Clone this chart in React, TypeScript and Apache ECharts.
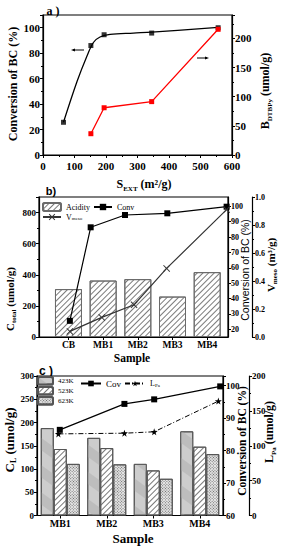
import { useEffect, useRef } from 'react';
import * as echarts from 'echarts';

const SERIF = '"Liberation Serif", "Times New Roman", serif';
const SANS = '"Liberation Sans", Arial, sans-serif';

// ---------- panel a ----------
const sExt = [65, 152, 194, 345, 556];
const convA = [25.7, 86, 94.5, 95.8, 100];
const fitSExt = [65, 108, 139, 160, 181, 213, 287, 345, 556];
const fitConv = [25.7, 57.7, 77.4, 88.4, 92.7, 94.7, 95.8, 96.6, 100.2];
const sExtB = [152, 194, 345, 556];
const bDTBPy = [36.5, 81, 91.5, 215.5];

// ---------- panel b ----------
const samplesB = ['CB', 'MB1', 'MB2', 'MB3', 'MB4'];
const barPosB = [1, 2, 3, 4, 5];
const acidity = [308, 363, 372, 260, 417];
const convBX = [1.04, 1.64, 2.63, 3.85, 5.56];
const convB = [25.5, 86.3, 94.3, 95.4, 99.7];
const vmesoX = [1.04, 1.96, 2.89, 3.83, 5.56];
const vmeso = [0.04, 0.14, 0.23, 0.49, 0.91];
const convBTicks = [20, 30, 40, 50, 60, 70, 80, 90, 100];

// ---------- panel c ----------
const samplesC = ['MB1', 'MB2', 'MB3', 'MB4'];
const cl423 = [188, 167, 111, 181];
const cl523 = [143, 145, 97, 148];
const cl623 = [111, 110, 79, 132];
const covX = [0.99, 2.38, 3.02, 4.44];
const covC = [86.4, 94.4, 95.8, 99.8];
const lpaX = [0.96, 2.38, 3.02, 4.4];
const lpa = [117, 118, 120, 164];

const pairs = (xs: number[], ys: number[]) => xs.map((x, i) => [x, ys[i]]);

const axLine = { show: true, onZero: false, lineStyle: { color: '#000', width: 1.2 } };
const tick = { show: true, length: 3, lineStyle: { color: '#000', width: 1 } };
const minor = { show: true, splitNumber: 2, length: 2, lineStyle: { color: '#000', width: 1 } };
const lbl = (fs: number, extra: any = {}) => ({
  color: '#000', fontFamily: SERIF, fontWeight: 'bold', fontSize: fs, margin: 3, ...extra,
});

const rich = (fs: number, family = SERIF, weight = 'bold') => ({
  m: { fontSize: fs, fontFamily: family, fontWeight: weight, lineHeight: fs + 4, fill: '#000' },
  s: { fontSize: Math.round(fs * 0.6), fontFamily: family, fontWeight: weight, lineHeight: Math.round(fs * 0.6), verticalAlign: 'bottom', fill: '#000' },
});

const title = (x: number, y: number, text: string, fs: number, rot = 0, family = SERIF, weight = 'bold') => ({
  type: 'text',
  x, y,
  rotation: rot,
  style: {
    text,
    rich: rich(fs, family, weight),
    fontSize: fs, fontFamily: family, fontWeight: weight,
    fill: '#000',
    align: 'center', verticalAlign: 'middle',
    textAlign: 'center', textVerticalAlign: 'middle',
  },
});

const R = Math.PI / 2;
const STAR = 'path://M5,0 L6.2,3.6 L10,3.6 L7,5.9 L8.1,9.5 L5,7.3 L1.9,9.5 L3,5.9 L0,3.6 L3.8,3.6 Z';
const XMARK = 'path://M0,1 L1,0 L5,4 L9,0 L10,1 L6,5 L10,9 L9,10 L5,6 L1,10 L0,9 L4,5 Z';
const subRich = { v: { fontSize: 8, fontFamily: SERIF, fill: '#000' }, s: { fontSize: 5, fontFamily: SERIF, verticalAlign: 'bottom', lineHeight: 5, fill: '#000' } };

export default function App() {
  const ref = useRef<HTMLDivElement>(null);
  useEffect(() => {
    if (!ref.current) return;
    const chart = echarts.init(ref.current, undefined, { renderer: 'svg' });
    const gridBase = { show: true, borderColor: '#000', borderWidth: 1.2, backgroundColor: 'transparent', containLabel: false };
    const option: any = {
      animation: false,
      backgroundColor: '#fff',
      grid: [
        { ...gridBase, left: 43, top: 15, width: 189, height: 140 },
        { ...gridBase, left: 39, top: 197, width: 189, height: 140 },
        { ...gridBase, left: 37, top: 376, width: 186, height: 139.5 },
      ],
      xAxis: [
        {
          gridIndex: 0, type: 'value', min: 0, max: 600, interval: 100,
          axisLine: axLine, axisTick: tick, minorTick: minor, splitLine: { show: false },
          axisLabel: lbl(11, { margin: 5 }),
        },
        {
          gridIndex: 1, type: 'value', min: 0.15, max: 5.6,
          axisLine: axLine,
          axisTick: { ...tick, customValues: barPosB },
          splitLine: { show: false },
          axisLabel: { ...lbl(9.5), customValues: barPosB, formatter: (v: number) => samplesB[Math.round(v) - 1] ?? '' },
        },
        {
          gridIndex: 2, type: 'category', data: samplesC, boundaryGap: true,
          axisLine: axLine, axisTick: { ...tick, alignWithLabel: true },
          axisLabel: lbl(10),
        },
        { gridIndex: 2, type: 'value', min: 0.5, max: 4.5, show: false },
      ],
      yAxis: [
        {
          gridIndex: 0, type: 'value', min: 0, max: 110, interval: 20, position: 'left',
          axisLine: axLine, axisTick: tick, minorTick: minor, splitLine: { show: false },
          axisLabel: { ...lbl(11), showMaxLabel: false },
        },
        {
          gridIndex: 0, type: 'value', min: 0, max: 240, interval: 50, position: 'right',
          axisLine: axLine, axisTick: tick, minorTick: minor, splitLine: { show: false },
          axisLabel: { ...lbl(11), showMaxLabel: false },
        },
        {
          gridIndex: 1, type: 'value', min: 0, max: 900, interval: 200, position: 'left',
          axisLine: axLine, axisTick: tick, minorTick: minor, splitLine: { show: false },
          axisLabel: { ...lbl(9), showMaxLabel: false },
        },
        {
          gridIndex: 1, type: 'value', min: 15, max: 106, position: 'right', offset: 0,
          axisLine: axLine, axisTick: { ...tick, customValues: convBTicks }, splitLine: { show: false },
          axisLabel: { ...lbl(8), customValues: convBTicks },
        },
        {
          gridIndex: 1, type: 'value', min: 0, max: 1, interval: 0.2, position: 'right', offset: 24,
          axisLine: axLine, axisTick: tick, minorTick: minor, splitLine: { show: false },
          axisLabel: { ...lbl(8), formatter: (v: number) => v.toFixed(1) },
        },
        {
          gridIndex: 2, type: 'value', min: 0, max: 300, interval: 50, position: 'left',
          axisLine: axLine, axisTick: tick, minorTick: minor, splitLine: { show: false },
          axisLabel: lbl(9),
        },
        {
          gridIndex: 2, type: 'value', min: 60, max: 103, interval: 10, position: 'right', offset: 0,
          axisLine: axLine, axisTick: tick, minorTick: minor, splitLine: { show: false },
          axisLabel: { ...lbl(9), showMaxLabel: false },
        },
        {
          gridIndex: 2, type: 'value', min: 0, max: 200, interval: 50, position: 'right', offset: 26,
          axisLine: axLine, axisTick: tick, minorTick: minor, splitLine: { show: false },
          axisLabel: lbl(9),
        },
      ],
      legend: [
        {
          data: ['Acidity', 'Conv'], left: 42, top: 202, itemWidth: 18, itemHeight: 8, itemGap: 3,
          textStyle: { fontFamily: SERIF, fontSize: 8, color: '#000' }, padding: 0,
        },
        {
          data: ['Vmeso'], left: 42, top: 213, itemWidth: 18, itemHeight: 8,
          textStyle: { fontFamily: SERIF, fontSize: 8, color: '#000', rich: subRich },
          formatter: () => '{v|V}{s|meso}', padding: 0,
        },
        {
          data: ['423K', '523K', '623K'], orient: 'vertical', left: 37, top: 376, itemWidth: 15, itemHeight: 7.5, itemGap: 0.5,
          textStyle: { fontFamily: SERIF, fontSize: 7, color: '#000' }, padding: 0,
        },
        {
          data: ['Cov', 'LPa'], left: 80, top: 379, itemWidth: 20, itemHeight: 7, itemGap: 3,
          textStyle: { fontFamily: SERIF, fontSize: 9, color: '#000', rich: subRich },
          formatter: (n: string) => (n === 'LPa' ? '{v|L}{s|Pa}' : n), padding: 0,
        },
      ],
      series: [
        // panel a
        {
          type: 'line', name: 'fit', xAxisIndex: 0, yAxisIndex: 0, data: pairs(fitSExt, fitConv),
          smooth: 0.35, showSymbol: false, lineStyle: { color: '#000', width: 1.3 },
        },
        {
          type: 'scatter', name: 'convA', xAxisIndex: 0, yAxisIndex: 0, data: pairs(sExt, convA),
          symbol: 'rect', symbolSize: 5, itemStyle: { color: '#000' },
        },
        {
          type: 'line', name: 'BDTBPy', xAxisIndex: 0, yAxisIndex: 1, data: pairs(sExtB, bDTBPy),
          symbol: 'rect', symbolSize: 5, lineStyle: { color: '#ff0000', width: 1.3 }, itemStyle: { color: '#ff0000' },
        },
        // panel b
        {
          type: 'bar', name: 'Acidity', xAxisIndex: 1, yAxisIndex: 2, data: pairs(barPosB, acidity),
          barWidth: 27,
          itemStyle: {
            color: '#ffffff', borderColor: '#6a6a6a', borderWidth: 1,
            decal: { symbol: 'rect', symbolSize: 1, dashArrayX: [1, 0], dashArrayY: [1, 3], rotation: -Math.PI / 4, color: '#7a7a7a' },
          },
        },
        {
          type: 'line', name: 'Conv', xAxisIndex: 1, yAxisIndex: 3, data: pairs(convBX, convB),
          symbol: 'rect', symbolSize: 6, lineStyle: { color: '#000', width: 1.2 }, itemStyle: { color: '#000' },
        },
        {
          type: 'line', name: 'Vmeso', xAxisIndex: 1, yAxisIndex: 4, data: pairs(vmesoX, vmeso),
          symbol: XMARK, symbolSize: 7, lineStyle: { color: '#333', width: 1.2 }, itemStyle: { color: '#333' },
        },
        // panel c
        {
          type: 'bar', name: '423K', xAxisIndex: 2, yAxisIndex: 5, data: cl423, barWidth: 13, barGap: '0%',
          itemStyle: {
            color: '#cdcdcd', borderColor: '#555', borderWidth: 1,
            decal: { symbol: 'rect', symbolSize: 1, dashArrayX: [1, 0], dashArrayY: [10, 12], rotation: Math.PI / 5, color: '#bdbdbd' },
          },
        },
        {
          type: 'bar', name: '523K', xAxisIndex: 2, yAxisIndex: 5, data: cl523, barWidth: 13, barGap: '0%',
          itemStyle: {
            color: '#ffffff', borderColor: '#555', borderWidth: 1,
            decal: { symbol: 'rect', symbolSize: 1, dashArrayX: [1, 0], dashArrayY: [1, 3], rotation: -Math.PI / 4, color: '#777' },
          },
        },
        {
          type: 'bar', name: '623K', xAxisIndex: 2, yAxisIndex: 5, data: cl623, barWidth: 13, barGap: '0%',
          itemStyle: {
            color: '#e6e6e6', borderColor: '#555', borderWidth: 1,
            decal: { symbol: 'rect', symbolSize: 1, dashArrayX: [1, 1], dashArrayY: [1, 1], rotation: Math.PI / 4, color: '#6a6a6a' },
          },
        },
        {
          type: 'line', name: 'Cov', xAxisIndex: 3, yAxisIndex: 6, data: pairs(covX, covC),
          symbol: 'rect', symbolSize: 6, lineStyle: { color: '#000', width: 1.2 }, itemStyle: { color: '#000' },
        },
        {
          type: 'line', name: 'LPa', xAxisIndex: 3, yAxisIndex: 7, data: pairs(lpaX, lpa),
          symbol: STAR, symbolSize: 7, lineStyle: { color: '#000', width: 1, type: [5, 2, 1, 2] }, itemStyle: { color: '#000' },
        },
      ],
      graphic: [
        // panel a titles
        title(53, 11, 'a )', 12),
        title(13, 84, 'Conversion of BC (%)', 12, R),
        title(265, 91, '{m|B}{s|DTBPy}{m| (umol/g)}', 12, R),
        title(144, 184, '{m|S}{s|EXT}{m| (m²/g)}', 12),
        // arrows panel a
        { type: 'line', shape: { x1: 73, y1: 50, x2: 84, y2: 50 }, style: { stroke: '#000', lineWidth: 1 } },
        { type: 'polygon', shape: { points: [[71, 50], [75, 48.5], [75, 51.5]] }, style: { fill: '#000' } },
        { type: 'line', shape: { x1: 197, y1: 58, x2: 207, y2: 58 }, style: { stroke: '#000', lineWidth: 1 } },
        { type: 'polygon', shape: { points: [[209, 58], [205, 56.5], [205, 59.5]] }, style: { fill: '#000' } },
        // panel b titles
        title(51, 191, 'b)', 11, 0, SANS),
        title(10, 299, '{m|C}{s|total}{m| (umol/g)}', 11, R),
        title(245, 270, 'Conversion of BC (%)', 10.5, R, SANS, 'normal'),
        title(271, 265, '{m|V}{s|meso}{m| (m³/g)}', 11, R),
        title(132, 358, 'Sample', 11.5),
        // panel c titles
        title(46, 371, 'c )', 12, 0, SANS),
        title(9, 440, '{m|C}{s|L}{m| (umol/g)}', 13, R),
        title(242, 441, 'Conversion of BC (%)', 11.5, R),
        title(269, 432, '{m|L}{s|Pa}{m| (umol/g)}', 12, R),
        title(133, 538, 'Sample', 13),
      ],
    };
    chart.setOption(option);
    return () => chart.dispose();
  }, []);
  return <div ref={ref} style={{ position: 'fixed', left: 0, top: 0, width: 282, height: 550, background: '#fff' }} />;
}
